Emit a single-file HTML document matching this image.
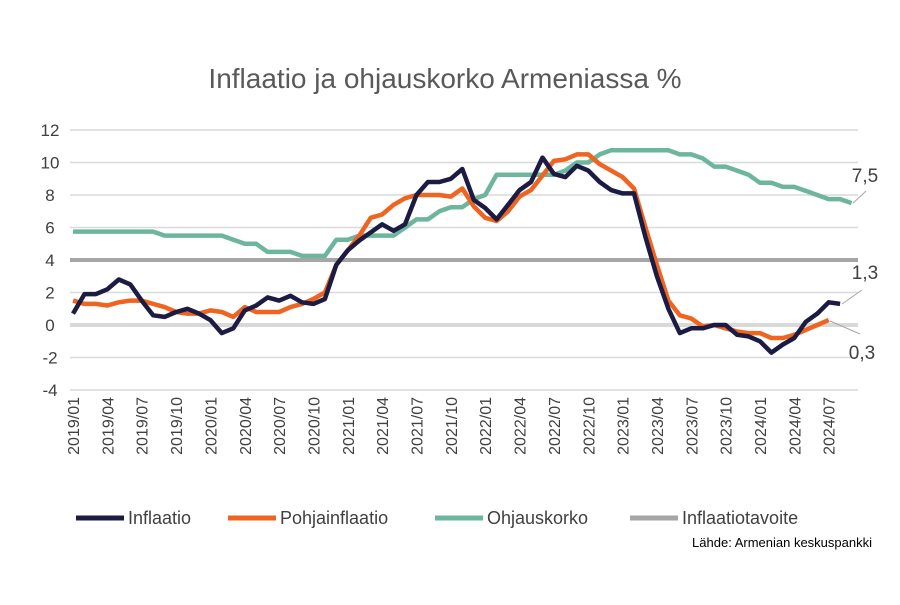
<!DOCTYPE html><html><head><meta charset="utf-8"><style>body{margin:0;background:#fff}svg{font-family:"Liberation Sans",sans-serif}</style></head><body>
<svg id="s" width="900" height="600" xmlns="http://www.w3.org/2000/svg">
<rect width="900" height="600" fill="#fff"/>
<text x="445" y="88" text-anchor="middle" font-size="28" fill="#595959">Inflaatio ja ohjauskorko Armeniassa %</text>
<g id="g"></g>
<g font-size="18" fill="#404040">
<line x1="76" y1="518" x2="124" y2="518" stroke="#1c1b44" stroke-width="5"/><text x="128" y="524">Inflaatio</text>
<line x1="228" y1="518" x2="276" y2="518" stroke="#ee6420" stroke-width="5"/><text x="280" y="524">Pohjainflaatio</text>
<line x1="435" y1="518" x2="483" y2="518" stroke="#6db69c" stroke-width="5"/><text x="487" y="524">Ohjauskorko</text>
<line x1="630" y1="518" x2="678" y2="518" stroke="#a6a6a6" stroke-width="5"/><text x="682" y="524">Inflaatiotavoite</text>
</g>
<text x="872" y="547" text-anchor="end" font-size="13" fill="#000">Lähde: Armenian keskuspankki</text>
</svg>
<script>
var g=document.getElementById('g'),h='';
function Y(v){return 325-16.25*v}function X(m){return 73+11.45*m}
for(var v=-4;v<=12;v+=2){if(v==0)continue;h+='<line x1="70" x2="858" y1="'+Y(v)+'" y2="'+Y(v)+'" stroke="#d9d9d9" stroke-width="1.5"/>';
h+='<text x="50" y="'+(Y(v)+6)+'" text-anchor="middle" font-size="17" fill="#404040">'+v+'</text>';}
h+='<line x1="70" x2="858" y1="325" y2="325" stroke="#d9d9d9" stroke-width="4"/><text x="50" y="331" text-anchor="middle" font-size="17" fill="#404040">0</text>';
h+='<line x1="70" x2="858" y1="'+Y(4)+'" y2="'+Y(4)+'" stroke="#a6a6a6" stroke-width="4"/>';
var mo=['01','04','07','10'];for(var i=0;i<23;i++){var m=i*3,lab=(2019+Math.floor(m/12))+'/'+mo[i%4];
h+='<text transform="translate('+(X(m)+6)+',397) rotate(-90)" text-anchor="end" font-size="16" fill="#404040">'+lab+'</text>';}
function P(a,c){var p='';a.forEach(function(v,i){p+=(i?'L':'M')+X(i).toFixed(1)+' '+Y(v).toFixed(1)});return '<path d="'+p+'" fill="none" stroke="'+c+'" stroke-width="4.5" stroke-linejoin="round"/>';}
var gr=[5.75,5.75,5.75,5.75,5.75,5.75,5.75,5.75,5.5,5.5,5.5,5.5,5.5,5.5,5.25,5,5,4.5,4.5,4.5,4.25,4.25,4.25,5.25,5.25,5.5,5.5,5.5,5.5,6,6.5,6.5,7,7.25,7.25,7.75,8,9.25,9.25,9.25,9.25,9.25,9.25,9.5,10,10,10.5,10.75,10.75,10.75,10.75,10.75,10.75,10.5,10.5,10.25,9.75,9.75,9.5,9.25,8.75,8.75,8.5,8.5,8.25,8,7.75,7.75,7.5];
var inf=[0.7,1.9,1.9,2.2,2.8,2.5,1.5,0.6,0.5,0.8,1.0,0.7,0.3,-0.5,-0.2,0.9,1.2,1.7,1.5,1.8,1.4,1.3,1.6,3.7,4.6,5.2,5.7,6.2,5.8,6.2,8.0,8.8,8.8,9.0,9.6,7.7,7.2,6.5,7.4,8.3,8.8,10.3,9.3,9.1,9.8,9.5,8.8,8.3,8.1,8.1,5.4,3.0,1.0,-0.5,-0.2,-0.2,0.0,0.0,-0.6,-0.7,-1.0,-1.7,-1.2,-0.8,0.2,0.7,1.4,1.3];
var core=[1.5,1.3,1.3,1.2,1.4,1.5,1.5,1.3,1.1,0.8,0.7,0.7,0.9,0.8,0.5,1.1,0.8,0.8,0.8,1.1,1.3,1.6,2.0,3.7,4.6,5.5,6.6,6.8,7.4,7.8,8.0,8.0,8.0,7.9,8.4,7.3,6.6,6.4,7.0,7.9,8.3,9.2,10.1,10.2,10.5,10.5,9.9,9.5,9.1,8.4,6.0,3.7,1.5,0.6,0.4,-0.1,0.0,-0.2,-0.4,-0.5,-0.5,-0.8,-0.8,-0.6,-0.3,0.0,0.3];
h+=P(gr,'#6db69c')+P(core,'#ee6420')+P(inf,'#1c1b44');
h+='<line x1="853" y1="'+Y(7.5)+'" x2="866" y2="'+(Y(7.5)-12)+'" stroke="#a6a6a6"/><text x="865" y="182" text-anchor="middle" font-size="19" fill="#404040">7,5</text>';
h+='<line x1="842" y1="304" x2="862" y2="290" stroke="#a6a6a6"/><text x="865" y="279" text-anchor="middle" font-size="19" fill="#404040">1,3</text>';
h+='<line x1="830" y1="321" x2="860" y2="334" stroke="#a6a6a6"/><text x="862" y="359" text-anchor="middle" font-size="19" fill="#404040">0,3</text>';
g.innerHTML=h;
</script>
</body></html>
